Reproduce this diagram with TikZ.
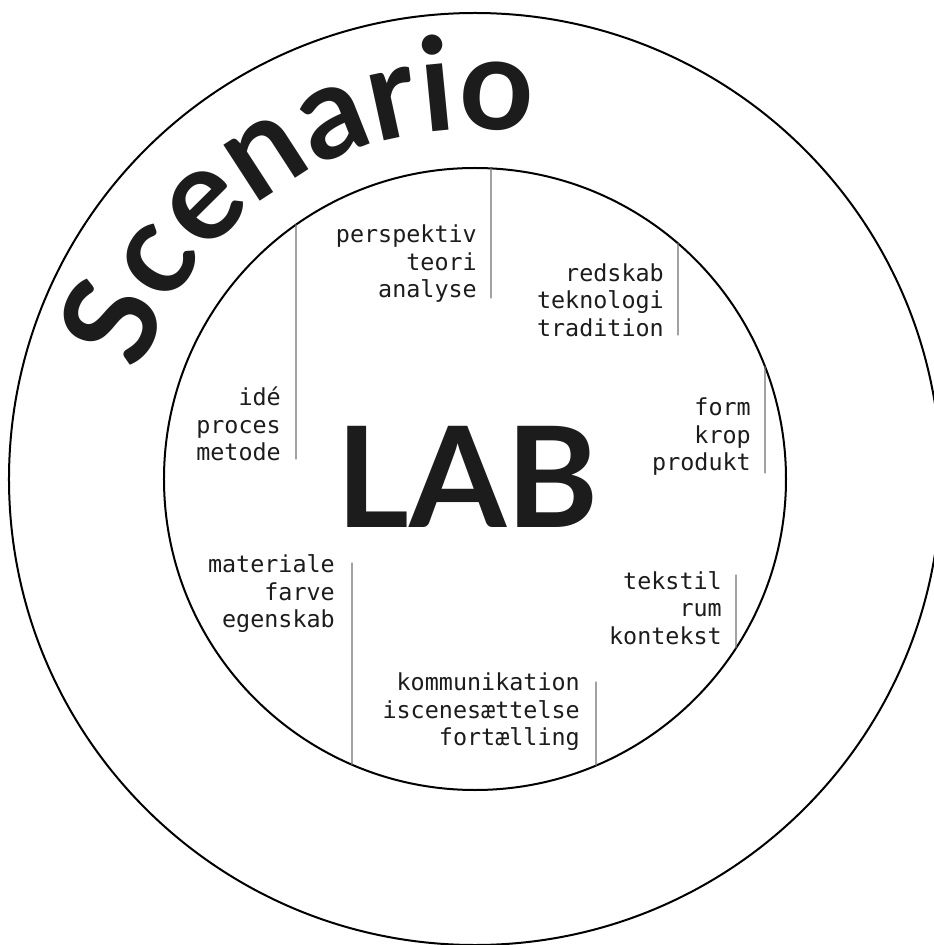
\documentclass[tikz,border=0pt]{standalone}
\usepackage{fontspec}
\usetikzlibrary{decorations.text}
\newfontfamily\monofont{DejaVu Sans Mono}
\newfontfamily\headfont{Lato}
\definecolor{ink}{HTML}{1C1C1C}
\definecolor{rulegray}{HTML}{707070}

\begin{document}
\begin{tikzpicture}[line cap=round,line join=round,x=1pt,y=1pt,
  ring/.style={draw=black,line width=2pt},
  sep/.style={draw=rulegray,line width=1.2pt},
  words/.style={left,align=right,inner sep=0pt,text=ink,
    font=\monofont\fontsize{23.4}{27.5}\selectfont}]
\useasboundingbox (-475,-466) rectangle (459,479);
% rings
\draw[ring] (0,0) circle (466);
\draw[ring] (0,0) circle (311);
% curved title
\path[decorate,decoration={text along path,text align=center,text color=ink,
  text={|\headfont\bfseries\fontsize{130}{130}\selectfont|Scenario}}]
  (201.5:350) arc (201.5:41.5:350);
\node (lab) [text=ink,inner sep=0pt,font=\headfont\bfseries\fontsize{140}{140}\selectfont] at (-7.5,2) {LAB};
% separators
\coordinate (ideA) at ({acos(-179/311)}:311);
\coordinate (ideB) at (-179,20);
\coordinate (teoA) at ({acos(16/311)}:311);
\coordinate (teoB) at (16,181);
\coordinate (redA) at ({acos(203/311)}:311);
\coordinate (redB) at (203,144);
\coordinate (forA) at ({acos(290/311)}:311);
\coordinate (forB) at (290,6);
\coordinate (tekA) at (261,-96);
\coordinate (tekB) at ({-acos(261/311)}:311);
\coordinate (komA) at (121,-203);
\coordinate (komB) at ({-acos(121/311)}:311);
\coordinate (matA) at (-123,-84);
\coordinate (matB) at ({-acos(-123/311)}:311);
\draw[sep] (ideA) -- (ideB);
\draw[sep] (teoA) -- (teoB);
\draw[sep] (redA) -- (redB);
\draw[sep] (forA) -- (forB);
\draw[sep] (tekA) -- (tekB);
\draw[sep] (komA) -- (komB);
\draw[sep] (matA) -- (matB);
% word groups
\node (ide) [words] at (-194,55) {idé\\proces\\metode};
\node (teori) [words] at (2,215) {perspektiv\\teori\\analyse};
\node (redskab) [words] at (189,179) {redskab\\teknologi\\tradition};
\node (form) [words] at (276,42) {form\\krop\\produkt};
\node (tekstil) [words] at (247,-129) {tekstil\\rum\\kontekst};
\node (komm) [words] at (105,-233) {kommunikation\\iscenesættelse\\fortælling};
\node (materiale) [words] at (-140,-115) {materiale\\farve\\egenskab};
\end{tikzpicture}
\end{document}
